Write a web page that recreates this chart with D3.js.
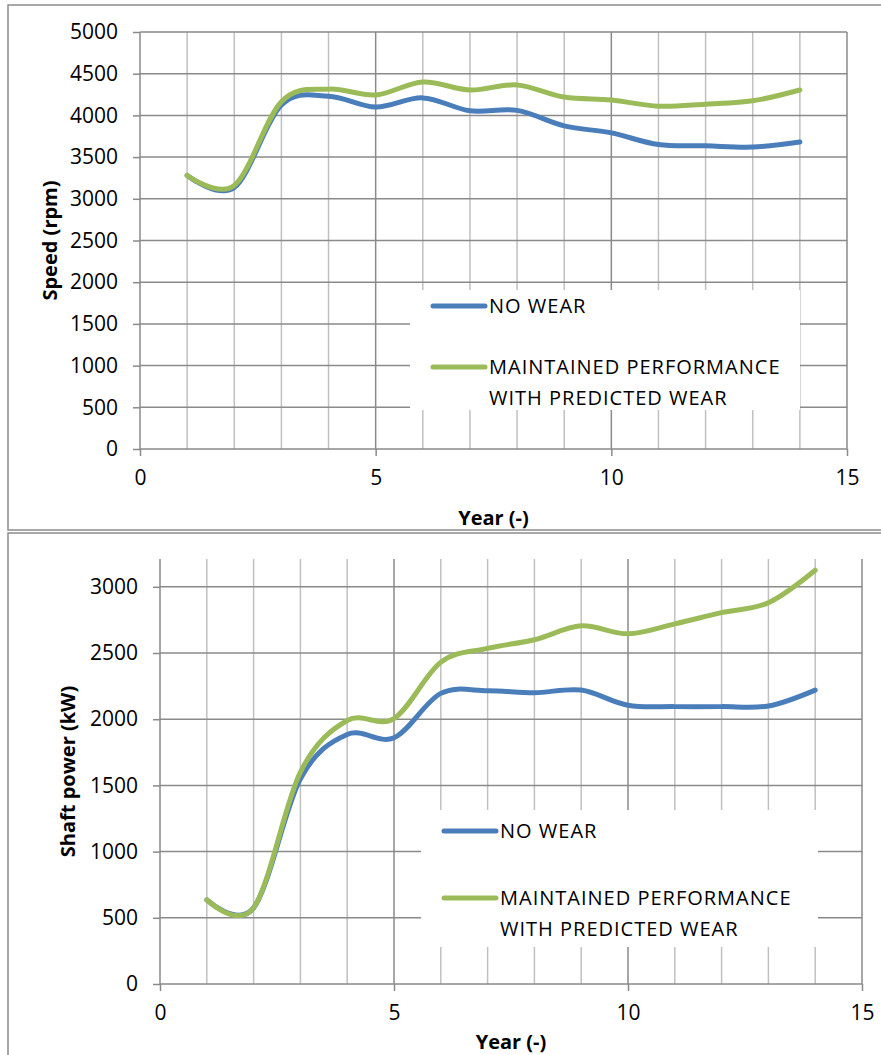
<!DOCTYPE html>
<html>
<head>
<meta charset="utf-8">
<script src="https://cdn.jsdelivr.net/npm/d3@7"></script>
<style>
  html, body { margin: 0; padding: 0; background: #fff; }
  svg { display: block; }
  text { font-family: "Open Sans", "Liberation Sans", sans-serif; fill: #000; }
</style>
</head>
<body>
<svg id="chart" width="881" height="1055"></svg>
<script>
// ---- data ----
const years = [1, 2, 3, 4, 5, 6, 7, 8, 9, 10, 11, 12, 13, 14];
const speedNoWear     = [3280, 3135, 4125, 4230, 4100, 4210, 4055, 4060, 3875, 3790, 3650, 3635, 3620, 3680];
const speedMaintained = [3280, 3160, 4165, 4315, 4245, 4400, 4305, 4365, 4220, 4185, 4110, 4135, 4175, 4305];
const powerNoWear     = [635, 575, 1550, 1885, 1860, 2195, 2215, 2200, 2220, 2105, 2095, 2095, 2100, 2220];
const powerMaintained = [635, 575, 1600, 1990, 2005, 2430, 2535, 2600, 2705, 2645, 2720, 2805, 2880, 3125];
const xTicks = [0, 5, 10, 15];
const speedTicks = [0, 500, 1000, 1500, 2000, 2500, 3000, 3500, 4000, 4500, 5000];
const powerTicks = [0, 500, 1000, 1500, 2000, 2500, 3000];
const seriesNames = ["NO WEAR", "MAINTAINED PERFORMANCE", "WITH PREDICTED WEAR"];
const seriesColors = ["#4a7ebb", "#9bbb59"];
const xTitle = "Year (-)";
const speedTitle = "Speed (rpm)";
const powerTitle = "Shaft power (kW)";

const svg = d3.select("#chart");
const gridDark = "#8a8a8a";
const gridLight = "#c0c0c0";

function drawChart(o) {
  const g = svg.append("g");
  // outer frame
  g.append("rect")
    .attr("x", o.frame[0]).attr("y", o.frame[1])
    .attr("width", o.frame[2]).attr("height", o.frame[3])
    .attr("fill", "#fff").attr("stroke", "#8c8c8c").attr("stroke-width", 1.5);

  const x = d3.scaleLinear().domain([0, 15]).range([o.left, o.right]);
  const y = d3.scaleLinear().domain([0, o.yMax]).range([o.bottom, o.top]);

  // minor vertical gridlines
  const minor = d3.range(1, 15).filter(v => v % 5 !== 0);
  g.append("g").selectAll("line").data(minor).join("line")
    .attr("x1", d => x(d)).attr("x2", d => x(d))
    .attr("y1", o.top).attr("y2", o.bottom)
    .attr("stroke", gridLight).attr("stroke-width", 1.5);
  // major vertical gridlines
  g.append("g").selectAll("line").data([5, 10, 15]).join("line")
    .attr("x1", d => x(d)).attr("x2", d => x(d))
    .attr("y1", o.top).attr("y2", o.bottom)
    .attr("stroke", gridDark).attr("stroke-width", 1.5);
  // horizontal gridlines
  g.append("g").selectAll("line").data(o.yTicks.filter(v => v > 0)).join("line")
    .attr("x1", o.left).attr("x2", o.right)
    .attr("y1", d => y(d)).attr("y2", d => y(d))
    .attr("stroke", gridDark).attr("stroke-width", 1.5);

  // axes
  const yAxis = d3.axisLeft(y).tickValues(o.yTicks).tickSize(7).tickPadding(15).tickFormat(d3.format("d"));
  const ya = g.append("g").attr("transform", `translate(${o.left},0)`).call(yAxis);
  ya.select(".domain").attr("stroke", gridDark).attr("stroke-width", 1.5)
    .attr("d", `M0,${o.top}V${o.bottom}`);
  ya.selectAll(".tick line").attr("stroke", gridDark).attr("stroke-width", 1.5);
  ya.selectAll(".tick text").attr("font-size", 21).attr("font-family", "Open Sans").attr("fill", "#000");

  const xAxis = d3.axisBottom(x).tickValues(xTicks).tickSize(7).tickPadding(14).tickFormat(d3.format("d"));
  const xa = g.append("g").attr("transform", `translate(0,${o.bottom})`).call(xAxis);
  xa.select(".domain").attr("stroke", gridDark).attr("stroke-width", 1.5)
    .attr("d", `M${o.left},0H${o.right}`);
  xa.selectAll(".tick line").attr("stroke", gridDark).attr("stroke-width", 1.5);
  xa.selectAll(".tick text").attr("font-size", 21).attr("font-family", "Open Sans").attr("fill", "#000");

  // titles
  g.append("text").attr("x", (o.left + o.right) / 2).attr("y", o.xTitleY)
    .attr("text-anchor", "middle").attr("font-size", 20).attr("font-weight", "bold")
    .text(xTitle);
  g.append("text")
    .attr("transform", `translate(${o.yTitleX},${(o.top + o.bottom) / 2}) rotate(-90)`)
    .attr("text-anchor", "middle").attr("font-size", 20).attr("font-weight", "bold")
    .text(o.yTitle);

  // legend box (drawn under series)
  const L = o.legend;
  g.append("rect").attr("x", L.x).attr("y", L.y).attr("width", L.w).attr("height", L.h)
    .attr("fill", "#fff");

  // series
  const line = d3.line().x((d, i) => x(years[i])).y(d => y(d)).curve(d3.curveCardinal.tension(0));
  o.series.forEach((s, k) => {
    g.append("path").datum(s).attr("d", line)
      .attr("fill", "none").attr("stroke", seriesColors[k]).attr("stroke-width", 5)
      .attr("stroke-linecap", "round").attr("stroke-linejoin", "round");
  });

  // legend entries
  const lx0 = L.x + 23, lx1 = lx0 + 52, tx = lx1 + 4;
  const lt = (yy, s) => g.append("text").attr("x", tx).attr("y", yy)
    .attr("font-size", 20).attr("letter-spacing", 1).text(s);
  g.append("line").attr("x1", lx0).attr("x2", lx1).attr("y1", L.row1).attr("y2", L.row1)
    .attr("stroke", seriesColors[0]).attr("stroke-width", 5).attr("stroke-linecap", "round");
  lt(L.row1 + 7, seriesNames[0]);
  g.append("line").attr("x1", lx0).attr("x2", lx1).attr("y1", L.row2).attr("y2", L.row2)
    .attr("stroke", seriesColors[1]).attr("stroke-width", 5).attr("stroke-linecap", "round");
  lt(L.row2 + 7, seriesNames[1]);
  lt(L.row2 + 38, seriesNames[2]);
}

drawChart({
  frame: [8, 5, 900, 525],
  left: 140, right: 847, top: 32, bottom: 449,
  yMax: 5000, yTicks: speedTicks,
  xTitleY: 525, yTitleX: 57, yTitle: speedTitle,
  series: [speedNoWear, speedMaintained],
  legend: { x: 410, y: 290, w: 390, h: 120, row1: 306, row2: 367 }
});

drawChart({
  frame: [8, 533, 900, 540],
  left: 160, right: 862, top: 559, bottom: 984,
  yMax: 3210, yTicks: powerTicks,
  xTitleY: 1049, yTitleX: 75, yTitle: powerTitle,
  series: [powerNoWear, powerMaintained],
  legend: { x: 421, y: 810, w: 397, h: 137, row1: 831, row2: 898 }
});
</script>
</body>
</html>
